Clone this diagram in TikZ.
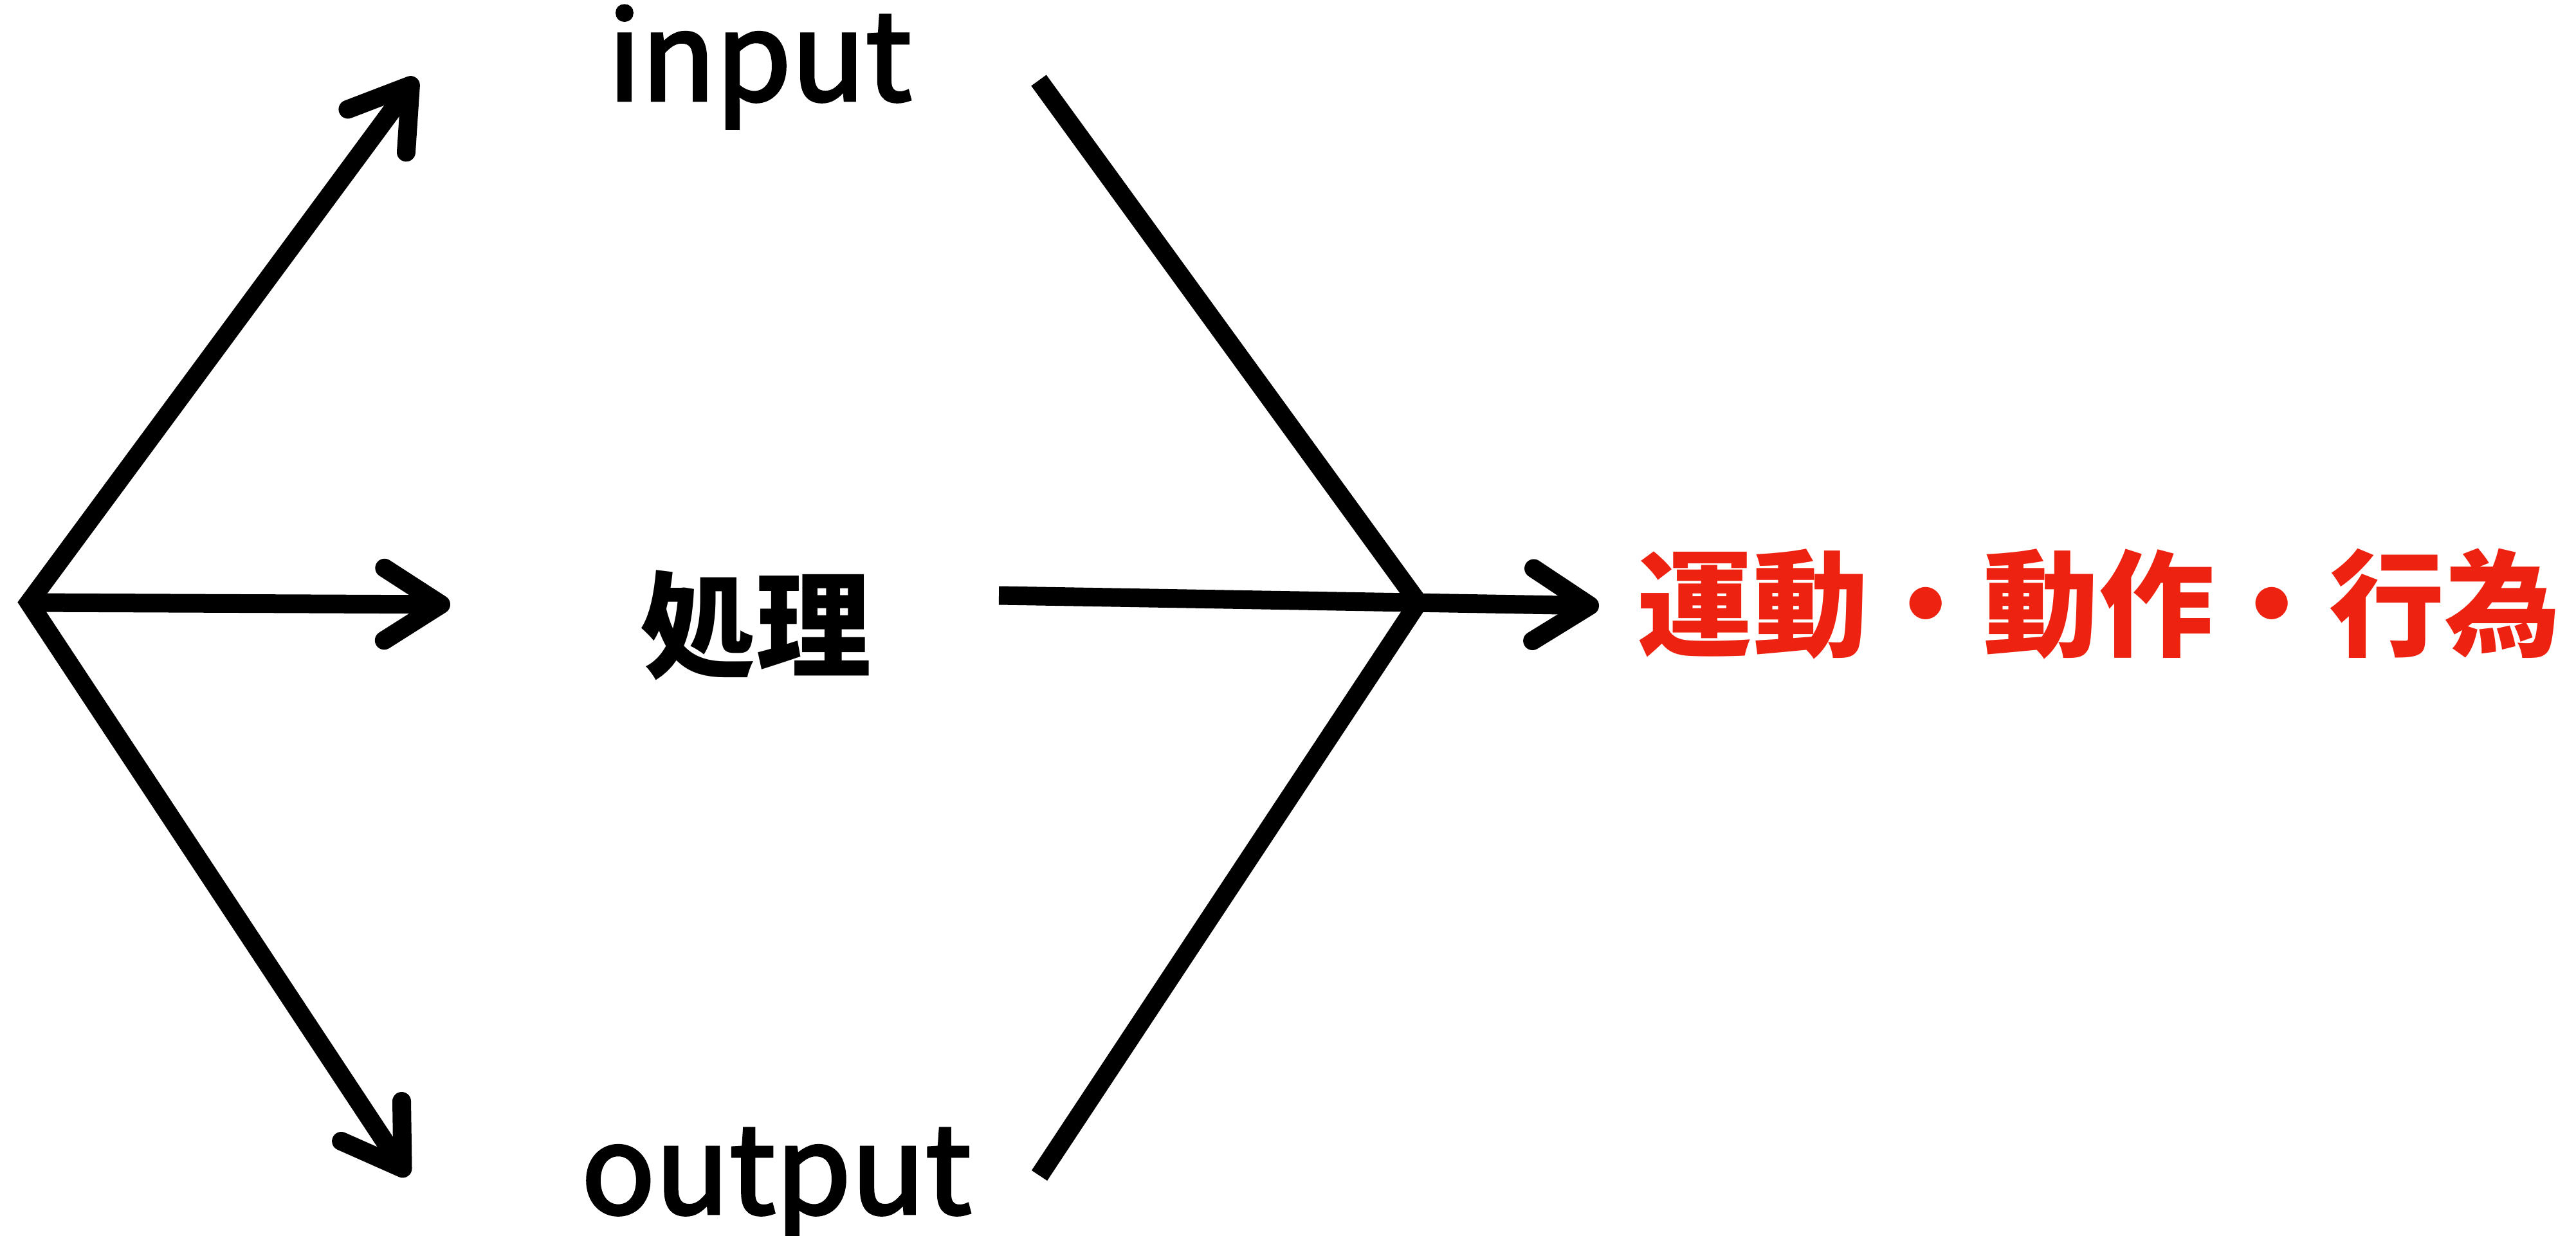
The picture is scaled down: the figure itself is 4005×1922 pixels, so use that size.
\documentclass[tikz,border=0pt]{standalone}
\usepackage{fontspec}
\setmainfont{Noto Sans CJK JP}
\newfontfamily\latmed{Noto Sans CJK JP}[FakeBold=2.5]
\usetikzlibrary{arrows.meta}
\definecolor{accent}{RGB}{238,34,17}
\begin{document}
\begin{tikzpicture}[x=0.01cm,y=-0.01cm,
  conn/.style={line width=8.25pt, line join=miter},
  >={Straight Barb[length=25pt,width=32pt,round]},
  lat/.style={font=\latmed\fontsize{54}{54}\selectfont, inner sep=0pt},
  cjkb/.style={font=\bfseries\fontsize{51}{51}\selectfont, inner sep=0pt}]
\useasboundingbox (0,0) rectangle (4005,1922);
% labels
\node[lat, anchor=base] (in) at (1181,156) {input};
\node[lat, anchor=base] (out) at (1207,1887) {output};
\node[cjkb] (proc) at (1175,972) {処理};
\node[cjkb, text=accent, anchor=west] (act) at (2545,939) {運動・動作・行為};
% coordinates
\coordinate (L) at (45,937);
\coordinate (tu) at (647,121);
\coordinate (tm) at (700,940);
\coordinate (td) at (634,1829);
\coordinate (R) at (2205,937);
\coordinate (rt) at (1615,125);
\coordinate (rb) at (1616,1828);
\coordinate (hs) at (1553,926);
\coordinate (he) at (2486,942);
% left fan
\draw[conn, <->] (tu) -- (L) -- (td);
\draw[conn, ->] (L) -- (tm);
% right fan
\draw[conn] (rt) -- (R) -- (rb);
\draw[conn, ->] (hs) -- (he);
\end{tikzpicture}
\end{document}
